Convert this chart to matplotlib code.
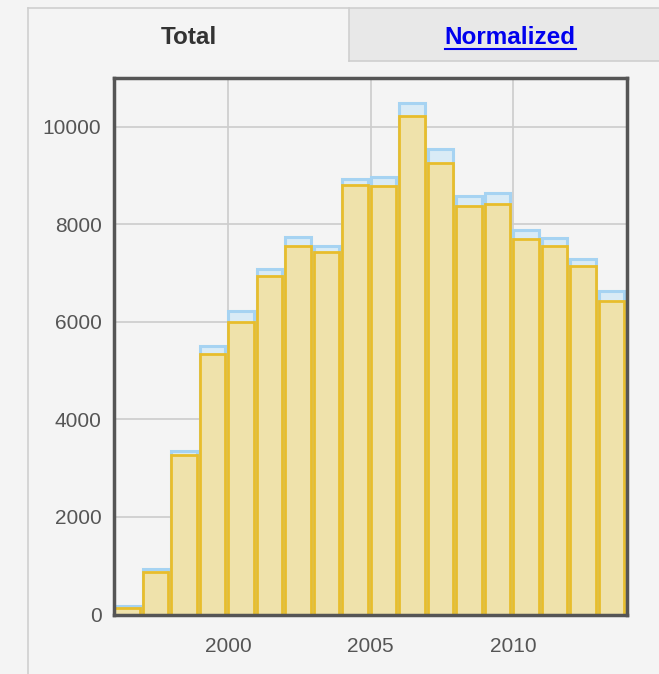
import matplotlib
matplotlib.use("Agg")
import matplotlib.pyplot as plt
from matplotlib.lines import Line2D
from matplotlib.patches import Rectangle

W, H = 659, 674
BG = "#f4f4f4"

YEARS = list(range(1996, 2014))
# back series (blue) and front series (yellow)
TOTAL = [177, 931, 3360, 5507, 6214, 7080, 7747, 7562, 8933, 8968,
         10496, 9536, 8590, 8646, 7885, 7720, 7290, 6640]
SUBSET = [130, 870, 3280, 5336, 6000, 6937, 7562, 7427, 8810, 8783,
          10222, 9262, 8385, 8420, 7700, 7550, 7140, 6420]

Y_TICKS = [0, 2000, 4000, 6000, 8000, 10000]
X_TICKS = [2000, 2005, 2010]
TAB_LABELS = ["Total", "Normalized"]


def fx(px):
    return px / W


def fy(py):
    return 1 - py / H


def draw_tabs(fig):
    grey = "#cfcfcf"
    # inactive tab
    fig.add_artist(Rectangle((fx(349), fy(61)), fx(W - 349), fy(8) - fy(61),
                             transform=fig.transFigure, facecolor="#e8e8e8",
                             edgecolor="none", zorder=0))
    lines = [
        ((28, 28), (8, H)),
        ((28, W), (8, 8)),
        ((349, 349), (8, 61)),
        ((349, W), (61, 61)),
    ]
    for xs, ys in lines:
        fig.add_artist(Line2D([fx(x) for x in xs], [fy(y) for y in ys],
                              transform=fig.transFigure, color=grey, lw=1.2))

    fig.text(fx(189), fy(37), TAB_LABELS[0], ha="center", va="center",
             fontsize=17.5, fontweight="bold", color="#333333")
    link = fig.text(fx(510), fy(37), TAB_LABELS[1], ha="center", va="center",
                    fontsize=17.5, fontweight="bold", color="#0000ee")

    fig.canvas.draw()
    bb = link.get_window_extent().transformed(fig.transFigure.inverted())
    fig.add_artist(Line2D([bb.x0, bb.x1], [bb.y0 - 0.001, bb.y0 - 0.001],
                          transform=fig.transFigure, color="#0000ee", lw=1.5))


def main():
    plt.rcParams["font.family"] = ["Liberation Sans", "DejaVu Sans"]

    fig = plt.figure(figsize=(W / 100, H / 100), dpi=100, facecolor=BG)
    ax = fig.add_axes([fx(114), fy(614.5), fx(627 - 114), fy(78) - fy(614.5)])
    ax.set_facecolor(BG)

    ax.bar(YEARS, TOTAL, width=0.9, align="edge", color="#d9ebf6",
           edgecolor="#a6d3f2", linewidth=2.2, zorder=2)
    ax.bar(YEARS, SUBSET, width=0.9, align="edge", color="#efe2ab",
           edgecolor="#e8bd2c", linewidth=2.0, zorder=3)

    ax.set_xlim(1996, 2014)
    ax.set_ylim(0, 11000)
    ax.set_xticks(X_TICKS)
    ax.set_yticks(Y_TICKS)
    ax.tick_params(length=0, labelsize=15, colors="#555555")
    ax.tick_params(axis="y", pad=9)
    ax.tick_params(axis="x", pad=16)

    ax.set_axisbelow(True)
    ax.grid(color="#cccccc", linewidth=1.2)
    for s in ax.spines.values():
        s.set_color("#555555")
        s.set_linewidth(2.5)
        s.set_zorder(5)

    draw_tabs(fig)
    fig.savefig("out.png", dpi=100, facecolor=BG)
    plt.close(fig)


if __name__ == "__main__":
    main()
